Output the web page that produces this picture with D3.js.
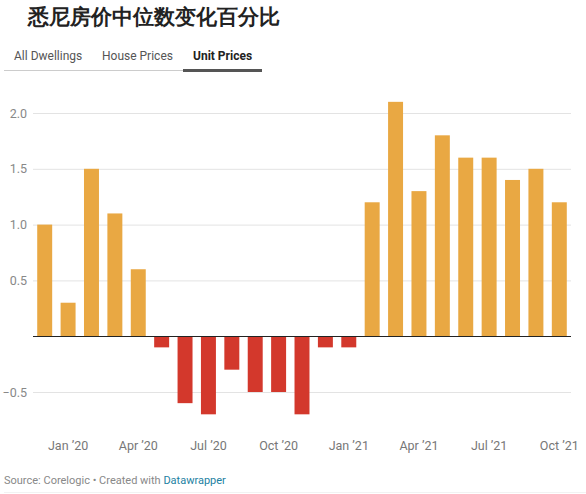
<!DOCTYPE html>
<html>
<head>
<meta charset="utf-8">
<script src="https://cdn.jsdelivr.net/npm/d3@7"></script>
<style>
  html, body { margin: 0; padding: 0; background: #fff; }
  svg { display: block; }
  text { font-family: Roboto, "Noto Sans", sans-serif; }
</style>
</head>
<body>
<svg id="chart" width="586" height="494"></svg>
<script>
const title = "悉尼房价中位数变化百分比";
const tabs = ["All Dwellings", "House Prices", "Unit Prices"];
const months = ["2019-12","2020-01","2020-02","2020-03","2020-04","2020-05","2020-06","2020-07","2020-08","2020-09","2020-10","2020-11","2020-12","2021-01","2021-02","2021-03","2021-04","2021-05","2021-06","2021-07","2021-08","2021-09","2021-10"];
const values = [1.0, 0.3, 1.5, 1.1, 0.6, -0.1, -0.6, -0.7, -0.3, -0.5, -0.5, -0.7, -0.1, -0.1, 1.2, 2.1, 1.3, 1.8, 1.6, 1.6, 1.4, 1.5, 1.2];
const xTickMonths = ["2020-01","2020-04","2020-07","2020-10","2021-01","2021-04","2021-07","2021-10"];
const xTickLabels = ["Jan ’20","Apr ’20","Jul ’20","Oct ’20","Jan ’21","Apr ’21","Jul ’21","Oct ’21"];
const yTicks = [-0.5, 0, 0.5, 1.0, 1.5, 2.0];
const yTickLabels = ["−0.5", "", "0.5", "1.0", "1.5", "2.0"];

const svg = d3.select("#chart");

// Title
svg.append("text").attr("x", 28).attr("y", 24)
  .attr("font-family", "'Noto Sans CJK SC', sans-serif")
  .attr("font-size", 21).attr("font-weight", 700).attr("fill", "#222")
  .text(title);

// Tabs
const tabX = [14, 102, 193];
svg.append("line").attr("x1", 4).attr("x2", 262).attr("y1", 70.5).attr("y2", 70.5)
  .attr("stroke", "#ccc").attr("stroke-width", 1);
tabs.forEach((t, i) => {
  svg.append("text").attr("x", tabX[i]).attr("y", 60)
    .attr("font-size", 12).attr("font-weight", i === 2 ? 700 : 400)
    .attr("fill", i === 2 ? "#222" : "#555").text(t);
});
svg.append("rect").attr("x", 183).attr("y", 69).attr("width", 79).attr("height", 3).attr("fill", "#555");

// Scales
const x = d3.scaleBand().domain(months).range([33, 571]).paddingInner(0.36).paddingOuter(0.18);
const y = d3.scaleLinear().domain([-0.5, 2.0]).range([392, 113]);

// Gridlines + y labels
const yAxis = d3.axisLeft(y).tickValues(yTicks).tickSize(0)
  .tickFormat((d, i) => yTickLabels[i]);
const gy = svg.append("g").attr("transform", "translate(27,0)").call(yAxis);
gy.select(".domain").remove();
gy.selectAll("text").attr("font-size", 12.5).attr("fill", "#888").attr("x", 0)
  .attr("font-family", "Roboto, sans-serif");

const grid = d3.axisLeft(y).tickValues(yTicks.filter(v => v !== 0)).tickSize(-(571 - 33)).tickFormat("");
const gg = svg.append("g").attr("transform", "translate(33,0)").call(grid);
gg.select(".domain").remove();
gg.selectAll("line").attr("stroke", "#e3e3e3");

// Bars
svg.append("g").selectAll("rect").data(values).join("rect")
  .attr("x", (d, i) => x(months[i]))
  .attr("width", x.bandwidth())
  .attr("y", d => y(Math.max(0, d)))
  .attr("height", d => Math.abs(y(d) - y(0)))
  .attr("fill", d => d >= 0 ? "#e9a843" : "#d3382c");

// Zero line
svg.append("line").attr("x1", 33).attr("x2", 571).attr("y1", Math.round(y(0)) + 0.5).attr("y2", Math.round(y(0)) + 0.5)
  .attr("stroke", "#222").attr("stroke-width", 1);

// X axis
const xAxis = d3.axisBottom(x).tickValues(xTickMonths).tickSize(0)
  .tickFormat(m => xTickLabels[xTickMonths.indexOf(m)]);
const gx = svg.append("g").attr("transform", "translate(0,438)").call(xAxis);
gx.select(".domain").remove();
gx.selectAll("text").attr("font-size", 12.5).attr("fill", "#777").attr("font-family", "Roboto, sans-serif");

// Footer
const foot = svg.append("text").attr("x", 4).attr("y", 484).attr("font-size", 11).attr("fill", "#888");
foot.append("tspan").text("Source: Corelogic • Created with ");
foot.append("tspan").attr("fill", "#1d81a2").text("Datawrapper");
svg.append("line").attr("x1", 4).attr("x2", 586).attr("y1", 492.5).attr("y2", 492.5).attr("stroke", "#f2f2f2");
</script>
</body>
</html>
